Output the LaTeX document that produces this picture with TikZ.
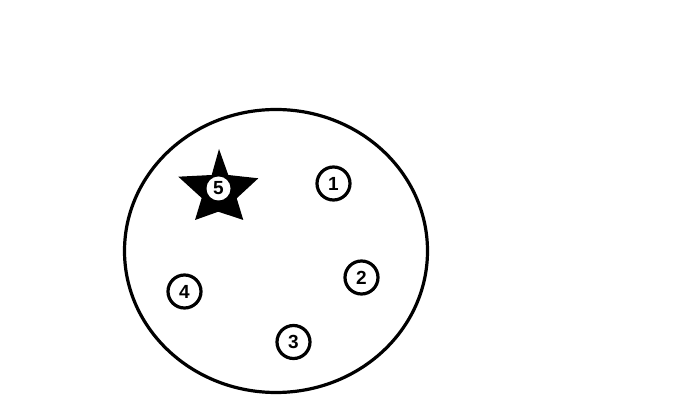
\documentclass[tikz,border=0pt]{standalone}
\usepackage{fontspec}
\setmainfont{Liberation Sans}
\usepackage{tikz}
\usetikzlibrary{shapes.geometric}

\begin{document}
\begin{tikzpicture}[
    x=1pt, y=-1pt,
    plate/.style={ellipse, draw, line width=3.2pt, minimum width=303pt, minimum height=283pt, inner sep=0pt},
    pin/.style={circle, draw, line width=3.2pt, minimum size=33pt, inner sep=0pt, font=\fontsize{19}{21}\selectfont\bfseries},
    hole/.style={circle, fill=white, minimum size=24pt, inner sep=0pt, font=\fontsize{19}{21}\selectfont\bfseries}
]
\useasboundingbox (0,0) rectangle (689,419);

\node[plate] (plate) at (276,251) {};

% star behind pin 5
\fill (219,149) -- (228.3,175) -- (258.3,178.3) -- (236.7,198.3) -- (243.3,220)
    -- (218.3,211.7) -- (195,220) -- (201.7,198) -- (178.3,176.7) -- (211.7,175) -- cycle;

\node[hole] (p5) at (218.5,188.5) {5};
\node[pin] (p1) at (333.5,183.5) {1};
\node[pin] (p2) at (361.5,277.5) {2};
\node[pin] (p3) at (293.5,342) {3};
\node[pin] (p4) at (184.5,291.5) {4};

\end{tikzpicture}
\end{document}
